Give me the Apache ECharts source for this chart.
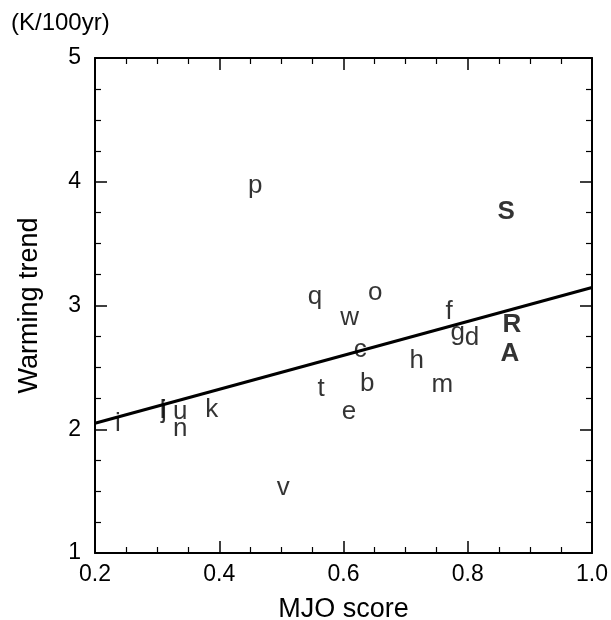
<!DOCTYPE html>
<html>
<head>
<meta charset="utf-8">
<script src="https://cdn.jsdelivr.net/npm/echarts@6/dist/echarts.min.js"></script>
<style>
  html, body { margin: 0; padding: 0; background: #fff; }
  #chart { width: 611px; height: 620px; }
</style>
</head>
<body>
<div id="chart"></div>
<script>
// Model labels (lower case) with their MJO score and warming trend (K/100yr)
const modelNames = ['p', 'q', 'o', 'w', 'f', 'g', 'd', 'c', 'h', 't', 'b', 'm', 'e', 'i', 'l', 'j', 'u', 'n', 'k', 'v'];
const modelScore = [0.458, 0.554, 0.651, 0.610, 0.770, 0.784, 0.807, 0.627, 0.718, 0.564, 0.638, 0.759, 0.609, 0.237, 0.309, 0.311, 0.337, 0.337, 0.388, 0.503];
const modelTrend = [3.97, 3.07, 3.10, 2.90, 2.95, 2.78, 2.74, 2.64, 2.55, 2.33, 2.37, 2.36, 2.14, 2.04, 2.15, 2.15, 2.14, 2.00, 2.16, 1.53];

// Reference data sets (upper case, bold)
const refNames = ['S', 'R', 'A'];
const refScore = [0.862, 0.871, 0.868];
const refTrend = [3.76, 2.84, 2.61];

// Linear fit across the score range
const fitScore = [0.2, 1.0];
const fitTrend = [2.048, 3.145];

// Axis ranges and tick spacing
const xMin = 0.2, xMax = 1.0, xStep = 0.2;
const yMin = 1, yMax = 5, yStep = 1;

const FONT = '"Liberation Sans", Arial, Helvetica, sans-serif';

const toPoints = (names, xs, ys) => names.map((n, i) => ({ name: n, value: [xs[i], ys[i]] }));

const tickStyle = { show: true, inside: true, length: 12, lineStyle: { color: '#000', width: 1.5 } };
const minorStyle = { show: true, splitNumber: 4, length: 6, lineStyle: { color: '#000', width: 1.2 } };
const lineStyle = { show: true, onZero: false, lineStyle: { color: '#000', width: 2 } };

function valueAxis(base, extra) {
  return Object.assign({
    type: 'value',
    axisLine: lineStyle,
    axisTick: tickStyle,
    minorTick: minorStyle,
    splitLine: { show: false },
    minorSplitLine: { show: false }
  }, base, extra);
}

const chart = echarts.init(document.getElementById('chart'), null, { renderer: 'canvas' });

chart.setOption({
  animation: false,
  backgroundColor: '#fff',
  textStyle: { fontFamily: FONT },
  title: {
    text: '(K/100yr)',
    left: 6,
    top: 6,
    textStyle: { fontFamily: FONT, fontSize: 24, fontWeight: 'normal', color: '#000' }
  },
  grid: { left: 95, right: 19, top: 58, bottom: 67, containLabel: false, outerBoundsMode: 'none' },
  xAxis: [
    valueAxis({ min: xMin, max: xMax, interval: xStep }, {
      position: 'bottom',
      name: 'MJO score',
      nameLocation: 'middle',
      nameGap: 43,
      nameTextStyle: { fontFamily: FONT, fontSize: 27, color: '#000' },
      axisLabel: { fontFamily: FONT, fontSize: 23, color: '#000', margin: 10, formatter: v => v.toFixed(1) }
    }),
    valueAxis({ min: xMin, max: xMax, interval: xStep }, {
      position: 'top',
      axisLabel: { show: false }
    })
  ],
  yAxis: [
    valueAxis({ min: yMin, max: yMax, interval: yStep }, {
      position: 'left',
      name: 'Warming trend',
      nameLocation: 'middle',
      nameGap: 52,
      nameRotate: 90,
      nameTextStyle: { fontFamily: FONT, fontSize: 27, color: '#000' },
      axisLabel: { fontFamily: FONT, fontSize: 23, color: '#000', margin: 14 }
    }),
    valueAxis({ min: yMin, max: yMax, interval: yStep }, {
      position: 'right',
      axisLabel: { show: false }
    })
  ],
  series: [
    {
      type: 'line',
      data: fitScore.map((x, i) => [x, fitTrend[i]]),
      showSymbol: false,
      lineStyle: { color: '#000', width: 3 },
      z: 1
    },
    {
      type: 'scatter',
      data: toPoints(modelNames, modelScore, modelTrend),
      symbolSize: 1,
      itemStyle: { color: 'rgba(0,0,0,0)' },
      label: {
        show: true, position: 'inside', formatter: p => p.name,
        fontFamily: FONT, fontSize: 26, color: '#000'
      },
      z: 2
    },
    {
      type: 'scatter',
      data: toPoints(refNames, refScore, refTrend),
      symbolSize: 1,
      itemStyle: { color: 'rgba(0,0,0,0)' },
      label: {
        show: true, position: 'inside', formatter: p => p.name,
        fontFamily: FONT, fontSize: 26, fontWeight: 'bold', color: '#000'
      },
      z: 2
    }
  ]
});
</script>
</body>
</html>
